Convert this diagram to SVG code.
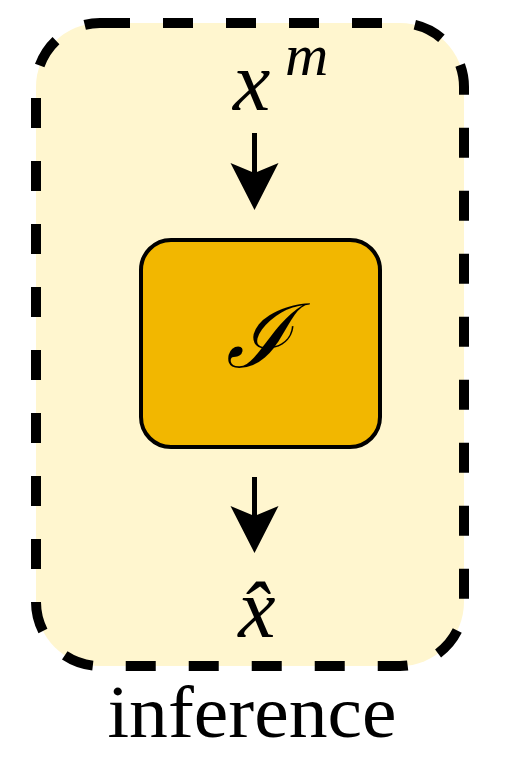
<svg xmlns="http://www.w3.org/2000/svg" width="508" height="758" viewBox="0 0 508 758">
<style>
.math{font-family:"Liberation Serif","DejaVu Serif",serif;font-style:italic;fill:#000}
.lbl{font-family:"Liberation Serif","DejaVu Serif",serif;fill:#000}
.conn{stroke:#000;stroke-width:5;fill:none}
</style>
<defs>
<marker id="ah" markerUnits="userSpaceOnUse" markerWidth="50" markerHeight="50" viewBox="-48 -25 50 50" refX="-36" refY="0" orient="auto">
<path d="M0,0 L-47,-24 L-37,0 L-47,24 Z" fill="#000"/>
</marker>
</defs>
<g id="inference-box">
<rect x="36" y="23" width="428" height="643" rx="64" fill="#FFF6CF" stroke="#000" stroke-width="10" stroke-dasharray="30 33"/>
<text class="lbl" x="252" y="737" font-size="74" text-anchor="middle" textLength="289" lengthAdjust="spacingAndGlyphs">inference</text>
</g>
<g id="input">
<text class="math" x="233" y="110" font-size="84">x</text>
<text class="math" x="285" y="75" font-size="60">m</text>
</g>
<g id="I-node">
<rect x="141" y="240" width="239" height="207" rx="30" fill="#F2B700" stroke="#000" stroke-width="4"/>
<text class="math" x="258" y="367" font-size="88" text-anchor="middle">ℐ</text>
</g>
<g id="output">
<text class="math" x="257" y="637" font-size="84" text-anchor="middle">x̂</text>
</g>
<g id="connectors">
<line class="conn" x1="254.5" y1="133" x2="254.5" y2="174" marker-end="url(#ah)"/>
<line class="conn" x1="254.5" y1="477" x2="254.5" y2="517" marker-end="url(#ah)"/>
</g>
</svg>
